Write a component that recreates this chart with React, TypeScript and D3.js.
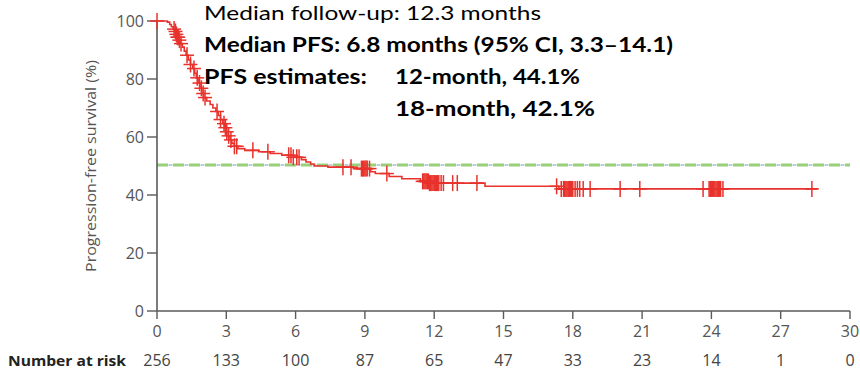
import React from "react";
import * as d3 from "d3";

// Axis ticks and the number-at-risk row
const monthTicks = [0, 3, 6, 9, 12, 15, 18, 21, 24, 27, 30];
const numberAtRisk = [256, 133, 100, 87, 65, 47, 33, 23, 14, 1, 0];
const survivalTicks = [0, 20, 40, 60, 80, 100];

// Kaplan-Meier step times (months) and survival (%) after each step
const stepTimes = [
  0.45, 0.55, 0.62, 0.7, 0.76, 0.82, 0.88, 0.95, 1.02, 1.1, 1.18, 1.26, 1.35,
  1.45, 1.55, 1.63, 1.7, 1.78, 1.86, 1.94, 2.02, 2.15, 2.3, 2.42, 2.55, 2.65,
  2.75, 2.85, 2.93, 3.0, 3.08, 3.16, 3.24, 3.35, 3.5, 3.8, 4.4, 4.9, 5.4, 5.9,
  6.25, 6.45, 6.65, 6.8, 7.4, 8.5, 9.25, 9.45, 10.05, 10.6, 11.4, 11.8, 14.2,
  17.4,
];
const stepSurvival = [
  99.6, 98.8, 98.0, 97.2, 96.4, 95.4, 94.4, 93.4, 92.2, 91.0, 89.6, 88.2, 86.6,
  85.0, 83.6, 82.0, 80.4, 78.6, 76.8, 75.0, 73.6, 72.4, 71.2, 70.0, 68.8, 67.4,
  66.0, 64.6, 63.2, 61.8, 60.4, 59.0, 57.8, 56.8, 56.0, 55.4, 54.9, 54.3, 53.7,
  53.0, 52.2, 51.4, 50.7, 50.0, 49.6, 49.1, 48.0, 47.4, 46.4, 45.6, 44.7, 44.1,
  43.0, 42.1,
];
const followUpEnd = 28.6;

// Censored observations (months)
const censorTimes = [
  0, 0.74, 0.8, 0.84, 0.88, 0.92, 0.97, 1.04, 1.3, 1.45, 1.6, 1.74, 1.84, 1.92,
  2.0, 2.08, 2.6, 2.75, 2.9, 2.96, 3.02, 3.1, 3.2, 3.35, 3.45, 4.15, 4.8, 5.7,
  5.8, 5.9, 6.05, 6.15, 8.05, 8.4, 8.85, 8.9, 8.95, 9.0, 9.05, 9.1, 9.2, 9.95,
  11.5, 11.55, 11.6, 11.65, 11.7, 11.75, 11.8, 11.85, 11.9, 11.95, 12.0, 12.05,
  12.1, 12.15, 12.2, 12.3, 12.4, 12.8, 13.0, 13.85, 17.3, 17.5, 17.6, 17.65,
  17.7, 17.75, 17.8, 17.85, 17.9, 17.95, 18.0, 18.1, 18.2, 18.3, 18.45, 18.75,
  20.05, 20.9, 23.64, 23.9, 23.95, 24.0, 24.05, 24.1, 24.15, 24.2, 24.25, 24.3,
  24.35, 24.4, 24.5, 28.35,
];

const medianLevel = 50;

const W = 860;
const H = 372;
const RED = "#e8322c";
const AXIS = "#5a5a5a";
const TICK_TEXT = "#555555";

export default function App() {
  const x = d3.scaleLinear().domain([0, 30]).range([157, 850]);
  const y = d3.scaleLinear().domain([0, 100]).range([311, 21]);

  const curveData: [number, number][] = [[0, 100]];
  stepTimes.forEach((t, i) => curveData.push([t, stepSurvival[i]]));
  curveData.push([followUpEnd, stepSurvival[stepSurvival.length - 1]]);

  const line = d3
    .line<[number, number]>()
    .x((d) => x(d[0]))
    .y((d) => y(d[1]))
    .curve(d3.curveStepAfter);

  const survivalAt = (t: number) => {
    const i = d3.bisectRight(stepTimes, t);
    return i === 0 ? 100 : stepSurvival[i - 1];
  };

  const axisFont = "'Open Sans', 'Noto Sans', sans-serif";
  const noteFont = "Lato, 'Noto Sans', sans-serif";
  const y0 = y(0);

  return (
    <svg
      width={W}
      height={H}
      style={{ position: "absolute", left: 0, top: 0, background: "#fff" }}
      fontFamily={axisFont}
    >
      <rect x={0} y={0} width={W} height={H} fill="#ffffff" />

      {/* median reference line */}
      <line
        x1={x(0)}
        x2={x(30)}
        y1={y(medianLevel) - 1}
        y2={y(medianLevel) - 1}
        stroke="#8c9aa3"
        strokeWidth={1.2}
        strokeDasharray="4 12"
        strokeDashoffset={-11.5}
      />
      <line
        x1={x(0)}
        x2={x(30)}
        y1={y(medianLevel) - 1}
        y2={y(medianLevel) - 1}
        stroke="#97d07a"
        strokeWidth={3}
        strokeDasharray="11 5"
      />

      {/* y axis */}
      <line x1={x(0)} x2={x(0)} y1={y(100)} y2={y0} stroke={AXIS} strokeWidth={1.6} />
      {survivalTicks.map((v) => (
        <g key={v}>
          <line x1={x(0) - 10} x2={x(0)} y1={y(v)} y2={y(v)} stroke={AXIS} strokeWidth={1.4} />
          <text
            x={x(0) - 13}
            y={y(v) + 5.5}
            textAnchor="end"
            fontSize={16}
            fill={TICK_TEXT}
          >
            {v}
          </text>
        </g>
      ))}
      <text
        transform={`translate(${96},${166}) rotate(-90)`}
        textAnchor="middle"
        fontSize={15}
        fill={TICK_TEXT}
        textLength={212}
        lengthAdjust="spacingAndGlyphs"
      >
        Progression-free survival (%)
      </text>

      {/* x axis */}
      <line x1={x(0)} x2={x(30)} y1={y0} y2={y0} stroke={AXIS} strokeWidth={1.6} />
      {monthTicks.map((m, i) => (
        <g key={m}>
          <line x1={x(m)} x2={x(m)} y1={y0} y2={y0 + 8} stroke={AXIS} strokeWidth={1.4} />
          <text x={x(m)} y={337} textAnchor="middle" fontSize={16} fill={TICK_TEXT}>
            {m}
          </text>
          <text x={x(m)} y={366} textAnchor="middle" fontSize={16} fill="#444444">
            {numberAtRisk[i]}
          </text>
        </g>
      ))}
      <text
        x={8}
        y={366}
        fontSize={15}
        fontWeight="bold"
        fill="#222222"
        textLength={118}
        lengthAdjust="spacingAndGlyphs"
      >
        Number at risk
      </text>

      {/* survival curve */}
      <path d={line(curveData) ?? ""} fill="none" stroke={RED} strokeWidth={1.6} />
      {censorTimes.map((t, i) => {
        const cx = x(t);
        const cy = y(survivalAt(t));
        return (
          <g key={i} stroke={RED} strokeWidth={1.5}>
            <line x1={cx} x2={cx} y1={cy - 8} y2={cy + 8} />
            <line x1={cx - 7} x2={cx + 7} y1={cy} y2={cy} />
          </g>
        );
      })}

      {/* summary notes */}
      <g fontFamily={noteFont} fill="#000000" fontSize={20}>
        <text x={204} y={20} textLength={337} lengthAdjust="spacingAndGlyphs">
          Median follow-up: 12.3 months
        </text>
        <text x={204} y={52} fontWeight="bold" textLength={469} lengthAdjust="spacingAndGlyphs">
          Median PFS: 6.8 months (95% CI, 3.3–14.1)
        </text>
        <text x={204} y={84} fontWeight="bold" textLength={163} lengthAdjust="spacingAndGlyphs">
          PFS estimates:
        </text>
        <text x={395} y={84} fontWeight="bold" textLength={185} lengthAdjust="spacingAndGlyphs">
          12-month, 44.1%
        </text>
        <text x={395} y={116} fontWeight="bold" textLength={200} lengthAdjust="spacingAndGlyphs">
          18-month, 42.1%
        </text>
      </g>
    </svg>
  );
}
